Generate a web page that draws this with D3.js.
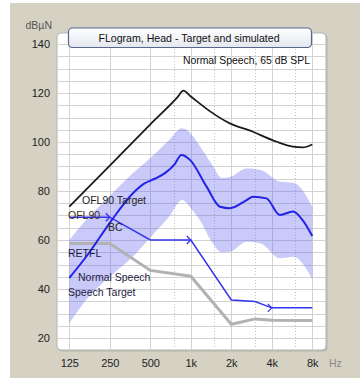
<!DOCTYPE html>
<html>
<head>
<meta charset="utf-8">
<script src="https://cdn.jsdelivr.net/npm/d3@7"></script>
<style>
  html, body { margin: 0; padding: 0; background: #fff; }
  svg { display: block; font-family: "Liberation Sans", Arial, sans-serif; }
</style>
</head>
<body>
<svg id="chart" width="364" height="388"></svg>
<script>
// Axis ticks
const freqTicks = [125, 250, 500, 1000, 2000, 4000, 8000];
const freqTickLabels = ["125", "250", "500", "1k", "2k", "4k", "8k"];
const freqMinor = [750, 1500, 3000, 6000];
const levelTicks = [20, 40, 60, 80, 100, 120, 140];

// OFL90 target (black)
const targetFreq = [125, 250, 500, 800, 880, 1000, 1400, 1950, 2900, 3270, 4350, 5750, 6800, 8000];
const targetLevel = [73.6, 90.4, 107.2, 118.4, 121, 118.6, 112.4, 107.6, 104.2, 102.9, 100.1, 98.1, 97.8, 99];

// Simulated response (blue)
const simFreq = [125, 175, 250, 370, 450, 540, 650, 760, 850, 990, 1310, 1650, 1950, 2600, 2900, 3650, 4600, 5750, 6800, 8000];
const simLevel = [44.5, 54.7, 67, 79, 83, 85, 87.5, 91, 94.7, 92.6, 81.8, 73.6, 73, 76.3, 77.7, 77, 70.2, 71.6, 68, 61.6];

// Speech range band
const bandFreq = [125, 175, 250, 370, 550, 690, 860, 1000, 1170, 1450, 1700, 1950, 2600, 3300, 4600, 5800, 8000];
const bandUpper = [60, 69.5, 78, 87.2, 95.5, 100.8, 105.6, 103.4, 98.3, 90.5, 85.3, 85.7, 89.2, 88.6, 83.8, 83.4, 73.6];
const bandLower = [26, 36.9, 45, 53.2, 63.6, 69.5, 76.3, 73, 68, 58.8, 55, 55.2, 59.3, 58.6, 52.6, 53.2, 44];

// OFL90 (blue, with arrows) and RETFL / speech target (grey)
const oflFreq = [125, 250, 500, 1000, 2000, 3000, 4000, 8000];
const oflLevel = [69.3, 69.3, 60, 60, 35.5, 34.9, 32.3, 32.3];
const arrowFreq = [250, 1000, 4000];
const arrowLevel = [69.3, 60, 32.3];
const greyFreq = [125, 250, 500, 1000, 2000, 3000, 4000, 8000];
const greyLevel = [58.6, 58.6, 47.6, 45.2, 25.6, 27.8, 27.2, 27.1];

const curveLabels = ["OFL90 Target", "OFL90", "BC", "RETFL", "Normal Speech", "Speech Target"];

const svg = d3.select("#chart");
const x = d3.scaleLog().domain([125, 8000]).range([69.3, 312.3]);
const y = d3.scaleLinear().domain([20, 140]).range([338, 44]);

const plot = { left: 57, right: 326, top: 33, bottom: 350 };

// Panel background
svg.append("rect")
    .attr("x", 10).attr("y", 3)
    .attr("width", 350).attr("height", 375)
    .attr("fill", "#d5d2c4");

// Plot frame with shadow
svg.append("rect")
    .attr("x", plot.left + 1.5).attr("y", plot.top + 1.5)
    .attr("width", plot.right - plot.left).attr("height", plot.bottom - plot.top)
    .attr("rx", 4)
    .attr("fill", "#b9b6aa");
svg.append("rect")
    .attr("x", plot.left).attr("y", plot.top)
    .attr("width", plot.right - plot.left).attr("height", plot.bottom - plot.top)
    .attr("rx", 4)
    .attr("fill", "#fff")
    .attr("stroke", "#b4b4b4");

// Grid
const grid = svg.append("g").attr("stroke", "#d2d2d2").attr("stroke-width", 1);
grid.selectAll("line.h")
    .data(d3.range(20, 141, 5))
    .join("line")
    .attr("x1", plot.left + 1).attr("x2", plot.right - 1)
    .attr("y1", d => Math.round(y(d)) + 0.5)
    .attr("y2", d => Math.round(y(d)) + 0.5);
grid.selectAll("line.v")
    .data(freqTicks)
    .join("line")
    .attr("y1", plot.top + 1).attr("y2", plot.bottom - 1)
    .attr("x1", d => Math.round(x(d)) + 0.5)
    .attr("x2", d => Math.round(x(d)) + 0.5);
svg.append("g").attr("stroke", "#c4c4c4")
    .attr("stroke-dasharray", "1,2")
    .selectAll("line")
    .data(freqMinor)
    .join("line")
    .attr("y1", plot.top + 1).attr("y2", plot.bottom - 1)
    .attr("x1", d => Math.round(x(d)) + 0.5)
    .attr("x2", d => Math.round(x(d)) + 0.5);

// Band
const band = bandFreq.map((f, i) => ({ f, lo: bandLower[i], hi: bandUpper[i] }));
svg.append("path")
    .datum(band)
    .attr("fill", "rgb(100,100,240)")
    .attr("fill-opacity", 0.34)
    .attr("d", d3.area()
        .curve(d3.curveMonotoneX)
        .x(d => x(d.f))
        .y0(d => y(d.lo))
        .y1(d => y(d.hi)));

function series(freqs, levels) {
    return freqs.map((f, i) => ({ f, v: levels[i] }));
}

// Black target line
svg.append("path")
    .datum(series(targetFreq, targetLevel))
    .attr("fill", "none")
    .attr("stroke", "#1c1c1c")
    .attr("stroke-width", 1.8)
    .attr("d", d3.line().curve(d3.curveMonotoneX).x(d => x(d.f)).y(d => y(d.v)));

// Grey line
svg.append("path")
    .datum(series(greyFreq, greyLevel))
    .attr("fill", "none")
    .attr("stroke", "#b2b2b2")
    .attr("stroke-width", 3)
    .attr("d", d3.line().x(d => x(d.f)).y(d => y(d.v)));

// OFL90 line
svg.append("path")
    .datum(series(oflFreq, oflLevel))
    .attr("fill", "none")
    .attr("stroke", "#3434f0")
    .attr("stroke-width", 1.5)
    .attr("d", d3.line().x(d => x(d.f)).y(d => y(d.v)));

svg.append("g")
    .attr("fill", "none")
    .attr("stroke", "#3434f0")
    .attr("stroke-width", 1.3)
    .selectAll("path")
    .data(series(arrowFreq, arrowLevel))
    .join("path")
    .attr("d", d => {
        const px = x(d.f), py = y(d.v);
        return `M${px - 4},${py - 4}L${px},${py}L${px - 4},${py + 4}`;
    });

// Simulated line
svg.append("path")
    .datum(series(simFreq, simLevel))
    .attr("fill", "none")
    .attr("stroke", "#2323e8")
    .attr("stroke-width", 2)
    .attr("d", d3.line().curve(d3.curveMonotoneX).x(d => x(d.f)).y(d => y(d.v)));

// Curve labels
const labelPos = [[82, 204], [68, 219], [108, 231], [68, 257], [78, 281], [68, 296]];
const labelColor = ["#222", "#3a2c14", "#222", "#1e1e3c", "#1e1e3c", "#1e1e3c"];
svg.append("g")
    .attr("font-size", "10.5px")
    .selectAll("text")
    .data(curveLabels)
    .join("text")
    .attr("x", (d, i) => labelPos[i][0])
    .attr("y", (d, i) => labelPos[i][1])
    .attr("fill", (d, i) => labelColor[i])
    .text(d => d);

// Axes
const yAxis = svg.append("g")
    .attr("transform", "translate(50,0)")
    .call(d3.axisLeft(y).tickValues(levelTicks).tickSize(0).tickPadding(0));
yAxis.select(".domain").remove();
yAxis.selectAll("text")
    .attr("font-size", "11px")
    .attr("font-family", "Liberation Sans, Arial, sans-serif")
    .attr("fill", "#222");

const xAxis = svg.append("g")
    .attr("transform", "translate(0,359)")
    .call(d3.axisBottom(x).tickValues(freqTicks).tickSize(0).tickPadding(0)
        .tickFormat((d, i) => freqTickLabels[i]));
xAxis.select(".domain").remove();
xAxis.selectAll("text")
    .attr("font-size", "11px")
    .attr("font-family", "Liberation Sans, Arial, sans-serif")
    .attr("fill", "#222");

svg.append("text")
    .attr("x", 52).attr("y", 29)
    .attr("text-anchor", "end")
    .attr("font-size", "10.5px")
    .attr("fill", "#555")
    .text("dBµN");
svg.append("text")
    .attr("x", 329).attr("y", 367)
    .attr("font-size", "10.5px")
    .attr("fill", "#8a8a8a")
    .text("Hz");

// Title box
const defs = svg.append("defs");
const grad = defs.append("linearGradient")
    .attr("id", "titleGrad")
    .attr("x1", 0).attr("y1", 0).attr("x2", 0).attr("y2", 1);
grad.append("stop").attr("offset", "0%").attr("stop-color", "#ffffff");
grad.append("stop").attr("offset", "100%").attr("stop-color", "#e4e7ef");

svg.append("rect")
    .attr("x", 68.5).attr("y", 28)
    .attr("width", 243).attr("height", 19.5)
    .attr("rx", 4)
    .attr("fill", "url(#titleGrad)")
    .attr("stroke", "#56678a")
    .attr("stroke-width", 1.2);
svg.append("text")
    .attr("x", 189).attr("y", 41.5)
    .attr("text-anchor", "middle")
    .attr("font-size", "10.6px")
    .attr("fill", "#111")
    .text("FLogram, Head - Target and simulated");
svg.append("text")
    .attr("x", 310).attr("y", 63.5)
    .attr("text-anchor", "end")
    .attr("font-size", "10.4px")
    .attr("fill", "#111")
    .text("Normal Speech, 65 dB SPL");
</script>
</body>
</html>
